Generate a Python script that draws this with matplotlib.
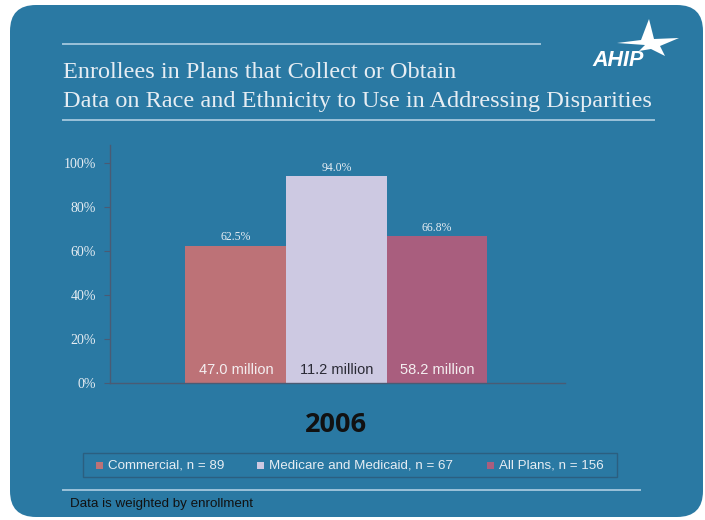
import matplotlib
matplotlib.use('Agg')
import matplotlib.pyplot as plt
from matplotlib.patches import FancyBboxPatch, Polygon, Rectangle

# ---- data ----
categories = ['Commercial, n = 89', 'Medicare and Medicaid, n = 67', 'All Plans, n = 156']
percent = [62.5, 94.0, 66.8]
enrollees = ['47.0 million', '11.2 million', '58.2 million']
yticks = [0, 20, 40, 60, 80, 100]
year = '2006'
title_lines = ['Enrollees in Plans that Collect or Obtain',
               'Data on Race and Ethnicity to Use in Addressing Disparities']
footnote = 'Data is weighted by enrollment'

# ---- style ----
colors = ['#bd7277', '#cdc9e2', '#a95e7e']
inner_text_colors = ['#f4eef0', '#2a2a35', '#f4eef0']
panel_color = '#2a79a3'
light = '#e6edf3'
rule_color = '#9cc3da'
spine_color = '#4a5b74'

W, H = 705, 520
fig = plt.figure(figsize=(W / 100, H / 100), dpi=100)
fig.patch.set_facecolor('white')

bg = fig.add_axes([0, 0, 1, 1], zorder=0)
bg.set_xlim(0, W)
bg.set_ylim(H, 0)
bg.axis('off')
bg.add_patch(FancyBboxPatch((10, 5), 693, 512,
                            boxstyle='round,pad=0,rounding_size=26',
                            fc=panel_color, ec='none'))
# title rules
bg.plot([63, 540], [44, 44], color=rule_color, lw=1.4)
bg.plot([63, 654], [120, 120], color=rule_color, lw=1.4)
# title
bg.text(63, 72, title_lines[0], fontsize=17.5, family='Liberation Serif',
        color=light, ha='left', va='center')
bg.text(63, 102, title_lines[1], fontsize=17.5, family='Liberation Serif',
        color=light, ha='left', va='center')
# logo
bg.add_patch(Polygon([(617, 43), (641, 40), (649, 19), (654, 39), (679, 38),
                      (660, 46), (665, 56), (651, 49), (639, 51), (645, 45)],
                     closed=True, fc='white', ec='none'))
bg.text(618, 60, 'AHIP', fontsize=15.5, fontweight='bold', fontstyle='italic',
        family='Liberation Sans', color='white', ha='center', va='center')
# year label
bg.text(336, 425, year, fontsize=19.5, fontweight='bold', family='Open Sans',
        color='#111111', ha='center', va='center')
# legend (manual, built from the categories list)
bg.add_patch(Rectangle((83, 453), 534, 24, fc='none', ec='#2b5f80', lw=1.0))
marker_x = [96, 257, 487]
for i, cat in enumerate(categories):
    bg.add_patch(Rectangle((marker_x[i], 462), 7, 7, fc=colors[i], ec='none'))
    bg.text(marker_x[i] + 12, 465.5, cat, fontsize=9.6, family='Liberation Sans',
            color=light, ha='left', va='center')
# bottom rule and footnote
bg.plot([63, 640], [490, 490], color=rule_color, lw=1.4)
bg.text(70, 504, footnote, fontsize=9.6, family='Liberation Sans',
        color='#111111', ha='left', va='center')

# ---- chart ----
ax_l, ax_r, ax_t, ax_b = 110, 565, 145, 383
ax = fig.add_axes([ax_l / W, (H - ax_b) / H, (ax_r - ax_l) / W, (ax_b - ax_t) / H], zorder=2)
ax.patch.set_alpha(0)
x = list(range(len(categories)))
for i in x:
    ax.bar(i, percent[i], width=1.0, color=colors[i], label=categories[i], zorder=2)
    ax.annotate(f'{percent[i]:.1f}%', (i, percent[i]), xytext=(0, 1.5),
                textcoords='offset points', ha='center', va='bottom',
                fontsize=8.5, family='Liberation Serif', color=light)
    ax.text(i, 6, enrollees[i], ha='center', va='center', fontsize=10.5,
            family='Liberation Sans', color=inner_text_colors[i], zorder=3)

ax.set_xlim(-1.25, 3.27)
ax.set_ylim(0, 100 * (ax_b - ax_t) / 220)
ax.set_yticks(yticks)
ax.set_yticklabels([f'{t}%' for t in yticks], family='Liberation Serif',
                   fontsize=10, color=light)
ax.set_xticks([])
ax.tick_params(axis='y', length=4, width=0.8, color=spine_color, pad=6)
for s in ['top', 'right']:
    ax.spines[s].set_visible(False)
for s in ['left', 'bottom']:
    ax.spines[s].set_color(spine_color)
    ax.spines[s].set_linewidth(1.0)

fig.savefig('out.png', dpi=100, facecolor='white')
